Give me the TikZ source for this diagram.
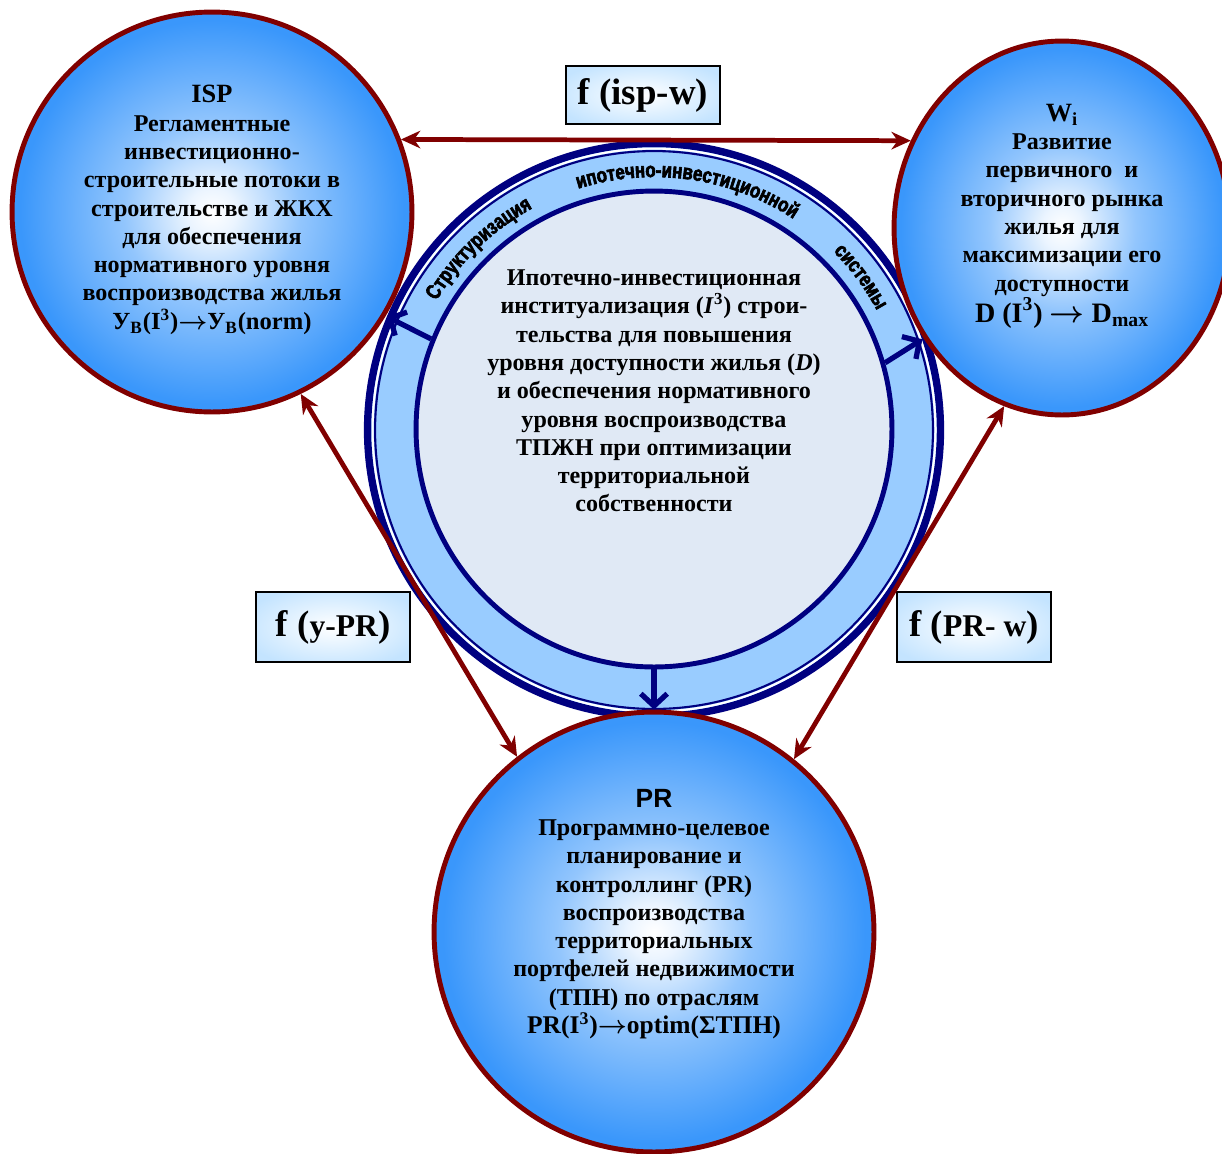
\documentclass[tikz,border=0pt]{standalone}
\usepackage{fontspec}
\setmainfont{Liberation Serif}
\setsansfont{Liberation Sans}
\newfontfamily\ringfont[FakeStretch=0.8,FakeBold=3]{Liberation Sans Bold}
\usetikzlibrary{arrows.meta,shapes.geometric,decorations.text}
\definecolor{bred}{HTML}{800000}
\definecolor{bnavy}{HTML}{000080}
\definecolor{bball}{HTML}{3A97FB}
\definecolor{bband}{HTML}{99CCFF}
\definecolor{bcore}{HTML}{E0E9F5}
\definecolor{bbox}{HTML}{C4E4FF}
\colorlet{bballin}{white!90!bball}
\colorlet{bballmid}{bball!55!white}
\pgfdeclareradialshading{ballshade}{\pgfpoint{0bp}{0bp}}{color(0bp)=(white); color(3bp)=(bballin); color(11bp)=(bballmid); color(24bp)=(bball); color(50bp)=(bball)}
\pgfdeclareradialshading{boxshade}{\pgfpoint{0bp}{0bp}}{color(0bp)=(white); color(30bp)=(bbox); color(50bp)=(bbox)}
\tikzset{
  ball/.style={draw=bred, line width=2.8pt, shade, shading=ballshade},
  balltext/.style={align=center, inner sep=0pt, font=\bfseries\fontsize{13.7}{16.1}\selectfont},
  fbox/.style={draw=black, line width=1pt, shade, shading=boxshade, minimum width=3.08cm, inner sep=0pt, font=\bfseries\fontsize{21}{24}\selectfont},
  link/.style={draw=bred, line width=2.7pt, arrows={Stealth[length=11pt,width=10pt]-Stealth[length=11pt,width=10pt]}},
  flow/.style={draw=bnavy, line width=3pt, arrows={-Straight Barb[length=7pt,width=15pt]}},
  ringword/.style={decorate, decoration={text along path, text align=center, text={|\ringfont\fontsize{12}{13}\selectfont|#1}}}
}
\newcommand{\bline}[2][14]{{\fontsize{#1}{16.1}\selectfont #2}}
\newcommand{\msize}[1]{{\fontsize{18}{20}\selectfont #1}}
\newcommand{\tto}{{\boldmath$\rightarrow$}}

\begin{document}
\begin{tikzpicture}[x=0.02cm, y=0.02cm]
\useasboundingbox (0,0) rectangle (1222,-1153);

% centre ring
\node[circle, draw=bnavy, line width=4.2pt, fill=bband, minimum size=11.46cm] (ring) at (654,-430) {};
\draw[white, line width=1.2pt] (ring.center) circle (5.63cm);
\draw[bnavy, line width=1.2pt] (ring.center) circle (5.58cm);
\node[circle, draw=bnavy, line width=2.8pt, fill=bcore, minimum size=9.52cm] (core) at (654,-429) {};

\path[ringword={Структуризация}] ([shift={(156:5.06cm)}]ring.center) arc[start angle=156, end angle=112, radius=5.06cm];
\path[ringword={ипотечно-инвестиционной}] ([shift={(112:5.06cm)}]ring.center) arc[start angle=112, end angle=52, radius=5.06cm];
\path[ringword={системы}] ([shift={(51:5.06cm)}]ring.center) arc[start angle=51, end angle=22, radius=5.06cm];

\node[balltext] (coretext) at (654,-391) {Ипотечно-инвестиционная\\
институализация (\textit{I}\textsuperscript{3}) строи-\\
тельства для повышения\\
уровня доступности жилья (\textit{D})\\
и обеспечения нормативного\\
уровня воспроизводства\\
ТПЖН при оптимизации\\
территориальной\\
собственности};

% three blocks
\node[ball, circle, minimum size=8cm] (isp) at (212,-212) {};
\node[ball, ellipse, minimum width=6.72cm, minimum height=7.48cm] (w) at (1062,-228) {};
\node[ball, circle, minimum size=8.8cm] (pr) at (654,-932) {};

\node[balltext] (isptext) at (212,-210) {\bline[15]{ISP}\\
Регламентные\\
инвестиционно-\\
строительные потоки в\\
строительстве и ЖКХ\\
для обеспечения\\
нормативного уровня\\
воспроизводства жилья\\
\bline{У\textsubscript{В}(I\textsuperscript{3})\tto У\textsubscript{В}(norm)}};

\node[balltext] (wtext) at (1062,-216) {\bline[15]{W\textsubscript{i}}\\
Развитие\\
первичного~ и\\
вторичного рынка\\
жилья для\\
максимизации его\\
доступности\\
\bline[16]{D (I\textsuperscript{3}) \tto{} D\textsubscript{max}}};

\node[balltext] (prtext) at (654,-914) {\bline[15]{\sffamily PR}\\
Программно-целевое\\
планирование и\\
контроллинг (PR)\\
воспроизводства\\
территориальных\\
портфелей недвижимости\\
(ТПН) по отраслям\\
\bline[14.5]{PR(I\textsuperscript{3})\tto optim(ΣТПН)}};

% labels
\node[fbox, minimum height=1.16cm] (fisp) at (643,-95) {f (isp-w)};
\node[fbox, minimum height=1.4cm] (fypr) at (333,-627) {f (\msize{у-PR})};
\node[fbox, minimum height=1.4cm] (fprw) at (974,-627) {f (\msize{PR- w})};

% connectors
\draw[link] (isp.21) -- (w.150);
\draw[link] (isp.-64) -- (pr.128);
\draw[link] (w.252) -- (pr.51);

\draw[flow] (core.158) -- (ring.157);
\draw[flow, shorten >=4pt] (core.16) -- (ring.19);
\draw[flow] (core.south) -- (pr.north);
\end{tikzpicture}
\end{document}
